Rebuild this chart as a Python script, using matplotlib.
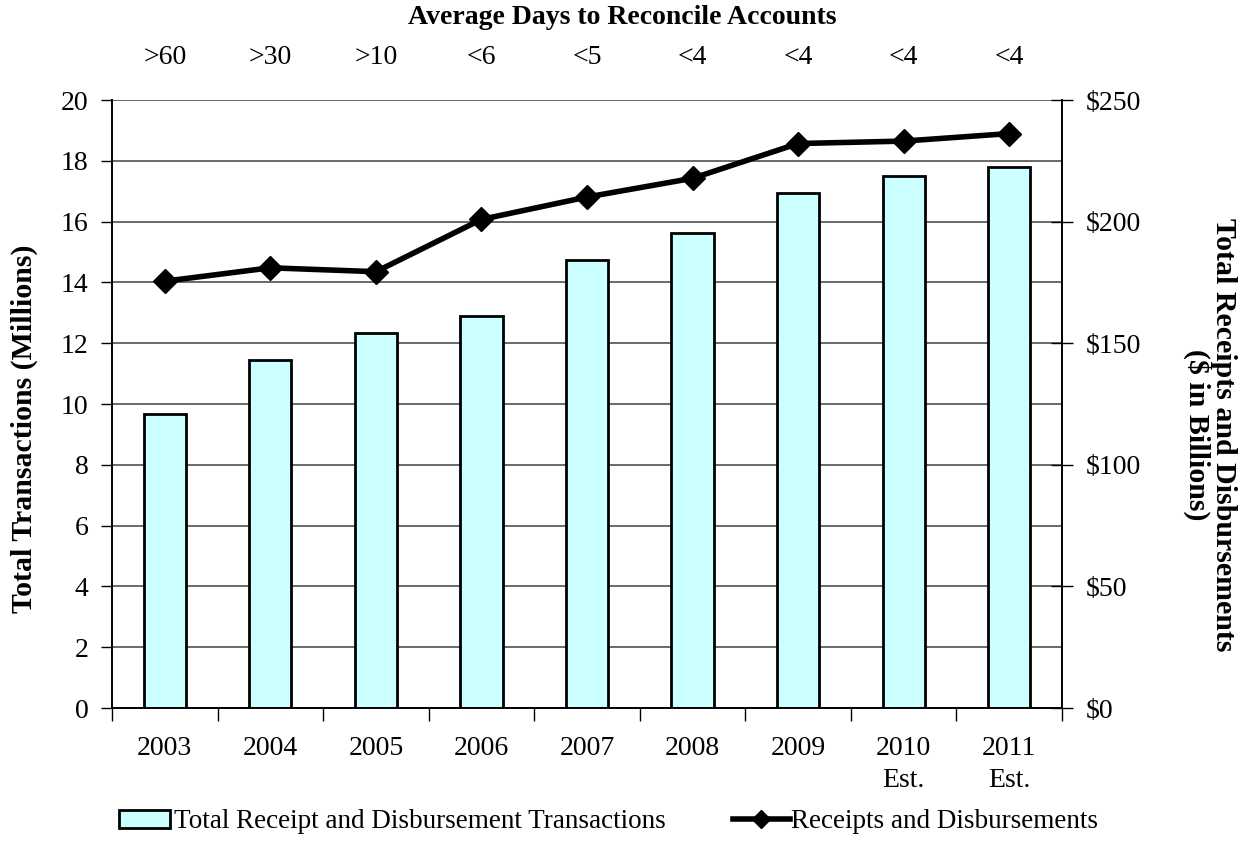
import matplotlib
matplotlib.use("Agg")
import matplotlib.pyplot as plt
from matplotlib.patches import Patch
from matplotlib.lines import Line2D
from matplotlib.ticker import FuncFormatter, MultipleLocator
import numpy as np

plt.rcParams['font.family'] = ['Liberation Serif', 'DejaVu Serif']

# Data
years = ["2003", "2004", "2005", "2006", "2007", "2008", "2009", "2010\nEst.", "2011\nEst."]
days_to_reconcile = [">60", ">30", ">10", "<6", "<5", "<4", "<4", "<4", "<4"]
transactions = [9.68, 11.46, 12.34, 12.91, 14.75, 15.62, 16.95, 17.50, 17.81]   # millions
receipts_disb = [175.5, 181.0, 179.4, 200.9, 210.1, 217.8, 232.1, 233.1, 236.2]  # $ billions

W, H = 1246, 842
fig = plt.figure(figsize=(W / 100, H / 100), dpi=100)
ax = fig.add_axes([112 / W, 1 - 708 / H, 950 / W, 608 / H])
ax2 = ax.twinx()

x = np.arange(len(years))
fs = 20
fs_bold = 21.5

# Bars - transactions on left axis
ax.bar(x, transactions, width=0.4, color='#CCFFFF', edgecolor='black', linewidth=2, zorder=3)
ax.set_ylim(0, 20)
ax.set_xlim(-0.5, len(years) - 0.5)
ax.yaxis.set_major_locator(MultipleLocator(2))
ax.grid(axis='y', color='#505050', linewidth=1.2, zorder=0)
ax.set_axisbelow(True)

ax.set_xticks(x, labels=years, linespacing=1.4)
ax.set_xticks(np.arange(-0.5, len(years), 1), minor=True)
ax.tick_params(axis='x', which='major', length=0, labelsize=fs, pad=20)
ax.tick_params(axis='x', which='minor', length=9, width=1, direction='out')
ax.tick_params(axis='y', length=8, width=1, direction='out', labelsize=fs, pad=9)

# Line - dollars on right axis
ax2.plot(x, receipts_disb, color='black', linewidth=4, marker='D', markersize=12, zorder=4)
ax2.set_ylim(0, 250)
ax2.yaxis.set_major_locator(MultipleLocator(50))
ax2.yaxis.set_major_formatter(FuncFormatter(lambda v, p: f"${v:.0f}"))
ax2.tick_params(axis='y', length=16, width=1, direction='inout', labelsize=fs, pad=9)

for a in (ax, ax2):
    a.spines['top'].set_visible(False)
    for s in ('left', 'right', 'bottom'):
        a.spines[s].set_linewidth(1.2)

# Average days to reconcile along the top
for xi, d in zip(x, days_to_reconcile):
    ax.text(xi, 20 + 42 / 30.38, d, ha='center', va='center', fontsize=fs, clip_on=False)
fig.text(622 / W, 1 - 18 / H, "Average Days to Reconcile Accounts", ha='center', va='center',
         fontsize=fs, fontweight='bold')

# Axis titles
fig.text(24 / W, 1 - 429 / H, "Total Transactions (Millions)", rotation=90, ha='center',
         va='center', fontsize=fs_bold, fontweight='bold')
fig.text(1210 / W, 1 - 435 / H, "Total Receipts and Disbursements\n($ in Billions)", rotation=270,
         ha='center', va='center', fontsize=fs_bold, fontweight='bold', multialignment='center',
         linespacing=0.9)

# Legend
bar_handle = Patch(facecolor='#CCFFFF', edgecolor='black', linewidth=2)
line_handle = Line2D([], [], color='black', linewidth=4, marker='D', markersize=9)
fig.legend([bar_handle], ["Total Receipt and Disbursement Transactions"], loc='center left',
           bbox_to_anchor=(108 / W, 1 - 822 / H), frameon=False, fontsize=19.5,
           handlelength=1.9, handleheight=0.6, handletextpad=0.15, borderaxespad=0)
fig.legend([line_handle], ["Receipts and Disbursements"], loc='center left',
           bbox_to_anchor=(722 / W, 1 - 822 / H), frameon=False, fontsize=19.5,
           handlelength=2.1, handletextpad=0.05, borderaxespad=0)

fig.savefig("out.png", dpi=100)
